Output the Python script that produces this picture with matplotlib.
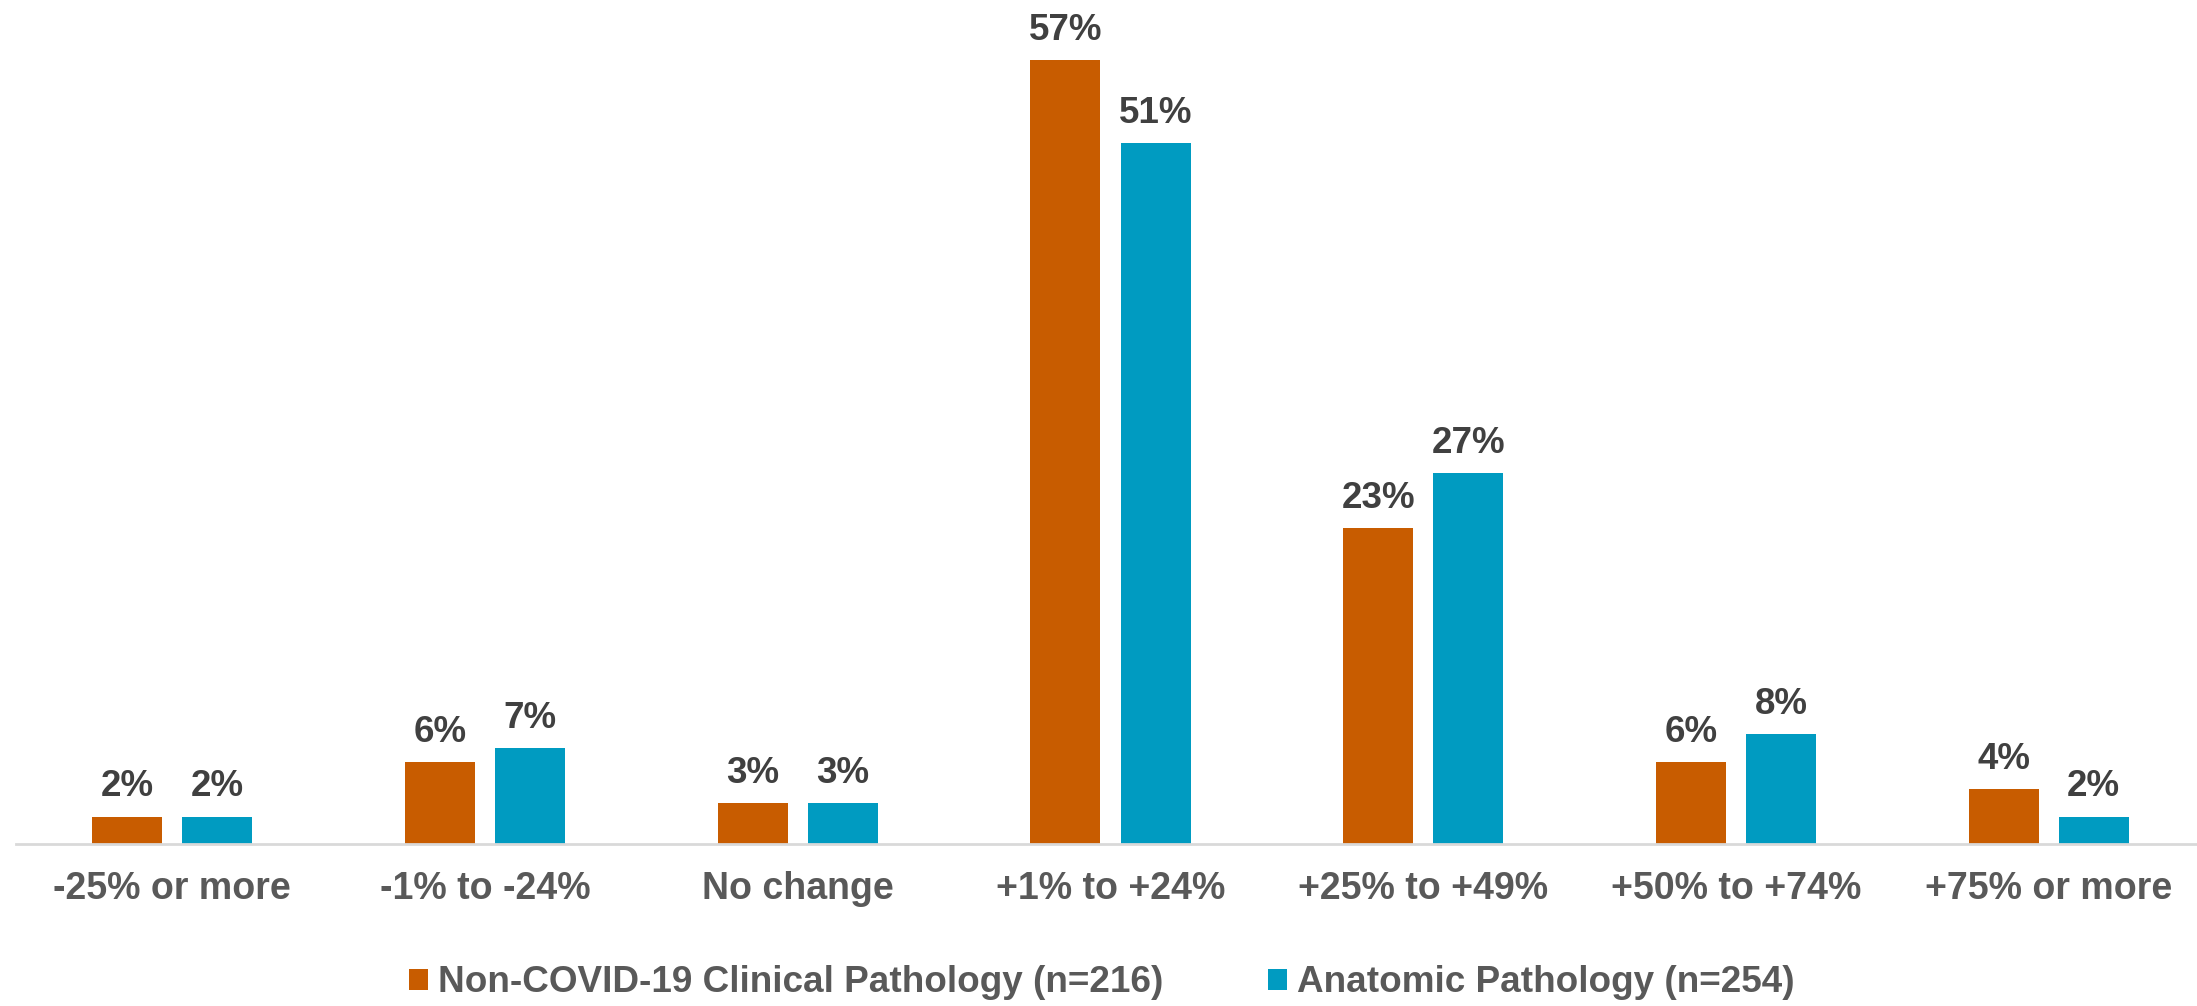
import matplotlib.pyplot as plt
import numpy as np
from matplotlib.patches import Patch

# Data
categories = ['-25% or more', '-1% to -24%', 'No change', '+1% to +24%',
              '+25% to +49%', '+50% to +74%', '+75% or more']
clinical = [2, 6, 3, 57, 23, 6, 4]
anatomic = [2, 7, 3, 51, 27, 8, 2]
series_names = ['Non-COVID-19 Clinical Pathology (n=216)', 'Anatomic Pathology (n=254)']

orange = '#C85C00'
blue = '#009BC1'
label_color = '#404040'
tick_color = '#595959'

plt.rcParams['font.family'] = ['Liberation Sans', 'DejaVu Sans']
plt.rcParams['font.weight'] = 'bold'

fig = plt.figure(figsize=(21.97, 10.06), dpi=100)
# axes from the left edge of the axis line to the top of the figure
ax = fig.add_axes([16 / 2197, (1006 - 844) / 1006, 2189 / 2197, 844 / 1006])

x = np.arange(len(categories))
width = 0.224
offset = 0.144
bars1 = ax.bar(x - offset, clinical, width, color=orange)
bars2 = ax.bar(x + offset, anatomic, width, color=blue)

# value labels above each bar
for bars, vals in [(bars1, clinical), (bars2, anatomic)]:
    for b, v in zip(bars, vals):
        ax.annotate(str(v) + '%', (b.get_x() + b.get_width() / 2, v),
                    xytext=(0, 14.4), textcoords='offset points',
                    ha='center', va='baseline', fontsize=26.5,
                    fontweight='bold', color=label_color)

ax.set_xlim(-0.5, len(categories) - 0.5)
ax.set_ylim(0, 844 / 13.75)
ax.set_xticks(x)
ax.set_xticklabels(categories, fontsize=27, fontweight='bold', color=tick_color)
ax.tick_params(axis='x', length=0, pad=19.5)
ax.set_yticks([])
for side in ['top', 'right', 'left']:
    ax.spines[side].set_visible(False)
ax.spines['bottom'].set_color('#D9D9D9')
ax.spines['bottom'].set_linewidth(2)

handles = [Patch(facecolor=orange), Patch(facecolor=blue)]
leg = fig.legend(handles, series_names, loc='center', bbox_to_anchor=(0.5015, 1 - 983 / 1006),
                 ncol=2, frameon=False, fontsize=26.6, handlelength=0.51, handleheight=0.51,
                 handletextpad=0.27, columnspacing=2.85)
for t in leg.get_texts():
    t.set_color(tick_color)
    t.set_fontweight('bold')

fig.savefig('out.png', dpi=100)
